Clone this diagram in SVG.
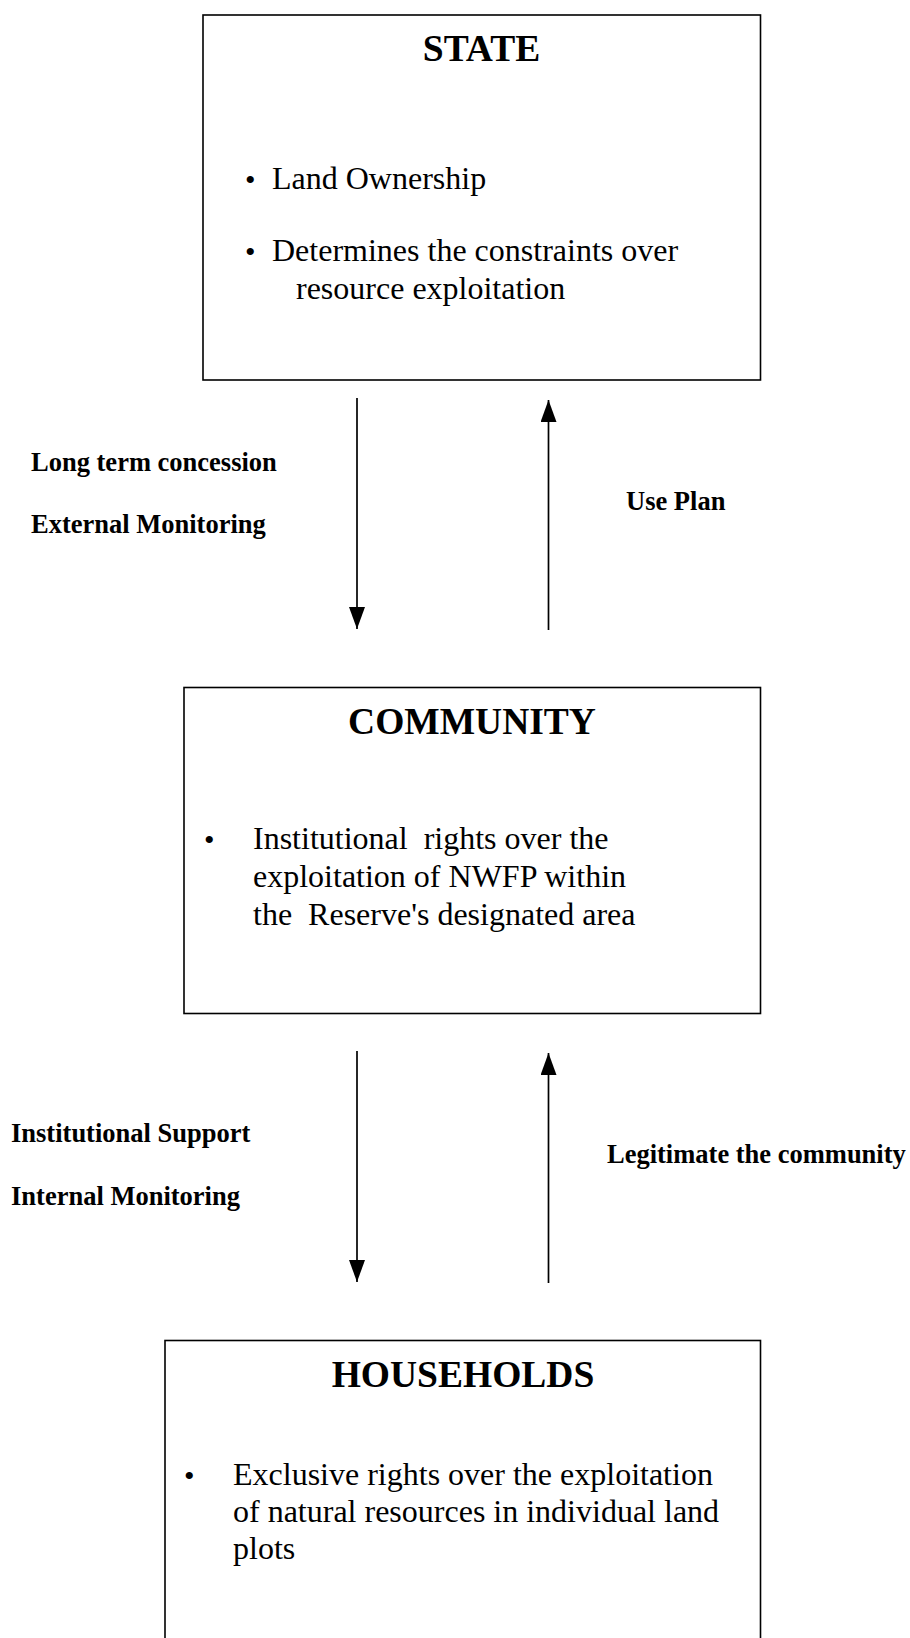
<svg xmlns="http://www.w3.org/2000/svg" width="910" height="1638" viewBox="0 0 910 1638">
<style>
.box{fill:#fff;stroke:#000;stroke-width:1.6}
.title{font-family:"Liberation Serif",serif;font-weight:bold;font-size:37.5px;text-anchor:middle;fill:#000}
.body{font-family:"Liberation Serif",serif;font-size:32px;fill:#000;white-space:pre}
.bul{font-family:"Liberation Serif",serif;font-size:30px;fill:#000}
.lbl{font-family:"Liberation Serif",serif;font-weight:bold;font-size:26.5px;fill:#000}
.conn{stroke:#000;stroke-width:1.7;fill:none}
</style>
<defs>
<marker id="ah" markerWidth="22" markerHeight="16" refX="22" refY="8" orient="auto" markerUnits="userSpaceOnUse" viewBox="0 0 22 16">
<path d="M0,0 L22,8 L0,16 Z" fill="#000"/>
</marker>
</defs>
<rect width="910" height="1638" fill="#fff"/>
<g id="state">
<rect class="box" x="203" y="15" width="557.5" height="365"/>
<text class="title" x="481.5" y="61">STATE</text>
<text class="bul" x="245" y="190">•</text>
<text class="body" x="272" y="189">Land Ownership</text>
<text class="bul" x="245" y="262">•</text>
<text class="body" x="272" y="261">Determines the constraints over</text>
<text class="body" x="296" y="299">resource exploitation</text>
</g>
<g id="community">
<rect class="box" x="184" y="687.5" width="576.5" height="326"/>
<text class="title" x="472" y="734">COMMUNITY</text>
<text class="bul" x="204" y="850">•</text>
<text class="body" x="253" y="849" xml:space="preserve">Institutional  rights over the</text>
<text class="body" x="253" y="887">exploitation of NWFP within</text>
<text class="body" x="253" y="925" xml:space="preserve">the  Reserve's designated area</text>
</g>
<g id="households">
<rect class="box" x="165" y="1340.5" width="595.5" height="320"/>
<text class="title" x="463" y="1387">HOUSEHOLDS</text>
<text class="bul" x="184" y="1486">•</text>
<text class="body" x="233" y="1485">Exclusive rights over the exploitation</text>
<text class="body" x="233" y="1522">of natural resources in individual land</text>
<text class="body" x="233" y="1559">plots</text>
</g>
<g id="connectors">
<line class="conn" x1="357" y1="398" x2="357" y2="629" marker-end="url(#ah)"/>
<line class="conn" x1="548.5" y1="630" x2="548.5" y2="400" marker-end="url(#ah)"/>
<line class="conn" x1="357" y1="1051" x2="357" y2="1282" marker-end="url(#ah)"/>
<line class="conn" x1="548.5" y1="1283" x2="548.5" y2="1053" marker-end="url(#ah)"/>
</g>
<g id="labels">
<text class="lbl" x="31" y="471">Long term concession</text>
<text class="lbl" x="31" y="533">External Monitoring</text>
<text class="lbl" x="626" y="510">Use Plan</text>
<text class="lbl" x="11" y="1142">Institutional Support</text>
<text class="lbl" x="11" y="1205">Internal Monitoring</text>
<text class="lbl" x="607" y="1163">Legitimate the community</text>
</g>
</svg>
